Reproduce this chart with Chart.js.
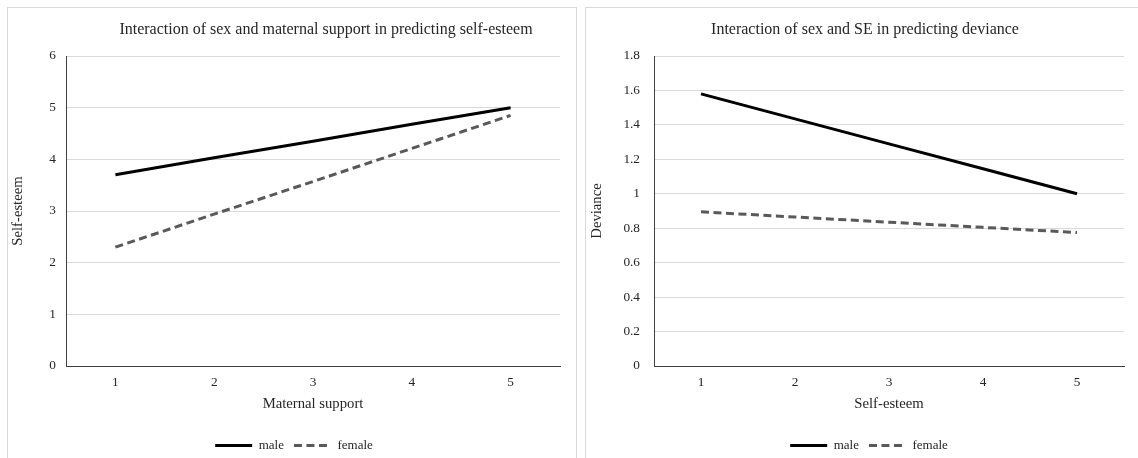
<!DOCTYPE html>
<html>
<head>
<meta charset="utf-8">
<script src="https://cdn.jsdelivr.net/npm/chart.js@4"></script>
<style>
  html, body { margin: 0; padding: 0; background: #fff; overflow: hidden; }
  body { width: 1138px; height: 458px; position: relative; }
  .box { position: absolute; top: 7px; height: 470px; border: 1px solid #d9d9d9; box-sizing: border-box; background: #fff; }
  #box-left { left: 7px; width: 570px; }
  #box-right { left: 585px; width: 570px; }
  canvas { position: absolute; left: 0; top: 0; }
</style>
</head>
<body>
<div class="box" id="box-left"><canvas id="c-left" width="568" height="458"></canvas></div>
<div class="box" id="box-right"><canvas id="c-right" width="552" height="458"></canvas></div>
<script>
  // chart 1: sex x maternal support -> self-esteem
  const supportLabels = ["1", "2", "3", "4", "5"];
  const esteemMale = [3.7, 4.03, 4.35, 4.68, 5.0];
  const esteemFemale = [2.3, 2.94, 3.57, 4.21, 4.85];

  // chart 2: sex x self-esteem -> deviance
  const esteemLabels = ["1", "2", "3", "4", "5"];
  const devianceMale = [1.58, 1.435, 1.29, 1.145, 1.0];
  const devianceFemale = [0.895, 0.865, 0.835, 0.805, 0.775];

  const FONT = "'Liberation Serif', 'Times New Roman', serif";
  const TEXT = "#262626";

  // draws the title at a chosen x, Excel doesn't centre it on the plot
  const titlePlugin = {
    id: "freeTitle",
    afterDraw(chart, args, opts) {
      const ctx = chart.ctx;
      ctx.save();
      ctx.font = "16px " + FONT;
      ctx.fillStyle = TEXT;
      ctx.textAlign = "center";
      ctx.textBaseline = "middle";
      ctx.fillText(opts.text, opts.x, opts.y);
      ctx.restore();
    },
  };

  // nudge the legend sideways without moving the axes
  const legendShift = {
    id: "legendShift",
    afterLayout(chart, args, opts) {
      if (!chart.legend) return;
      chart.legend.left += opts.dx;
      chart.legend.right += opts.dx;
    },
  };

  function legendLabels(chart) {
    const items = Chart.defaults.plugins.legend.labels.generateLabels(chart);
    return items.map((it, i) => {
      const ds = chart.data.datasets[i];
      return { ...it, lineDash: ds.borderDash || [], lineWidth: ds.borderWidth, strokeStyle: ds.borderColor };
    });
  }

  function makeChart(canvasId, cfg) {
    return new Chart(document.getElementById(canvasId), {
      type: "line",
      data: {
        labels: cfg.labels,
        datasets: [
          { label: "male", data: cfg.male, borderColor: "#000000", borderWidth: 3, pointRadius: 0, tension: 0, fill: false },
          { label: "female", data: cfg.female, borderColor: "#595959", borderWidth: 3, borderDash: [8, 4.5], pointRadius: 0, tension: 0, fill: false },
        ],
      },
      plugins: [titlePlugin, legendShift],
      options: {
        responsive: false,
        animation: false,
        events: [],
        layout: { padding: { top: 48, left: 0, right: cfg.padRight, bottom: 4 } },
        plugins: {
          freeTitle: { text: cfg.title, x: cfg.titleX, y: 22 },
          legendShift: { dx: cfg.legendDx },
          title: { display: false },
          tooltip: { enabled: false },
          legend: {
            position: "bottom",
            labels: {
              usePointStyle: true,
              pointStyle: "line",
              pointStyleWidth: 37,
              padding: 10,
              color: TEXT,
              font: { family: FONT, size: 13 },
              generateLabels: legendLabels,
            },
          },
        },
        scales: {
          x: {
            type: "category",
            offset: true,
            grid: { display: false, drawTicks: false },
            border: { display: true, color: "#404040", width: 1 },
            ticks: { color: TEXT, padding: 9, font: { family: FONT, size: 13.3 }, maxRotation: 0 },
            title: { display: true, text: cfg.xTitle, color: TEXT, font: { family: FONT, size: 14.7 }, padding: { top: 0, bottom: 16 } },
            afterFit(scale) { scale.height = 63; },
          },
          y: {
            min: 0,
            max: cfg.yMax,
            grid: { color: "#d9d9d9", lineWidth: 1, drawTicks: false },
            border: { display: true, color: "#404040", width: 1 },
            ticks: {
              stepSize: cfg.yStep, color: TEXT, padding: cfg.tickPad, font: { family: FONT, size: 13.3 },
              callback: (v) => String(Number(v.toFixed(1))),
            },
            title: { display: true, text: cfg.yTitle, color: TEXT, font: { family: FONT, size: 14.7 }, padding: { top: cfg.yTitlePad, bottom: 0 } },
            afterFit(scale) { scale.width = cfg.axisWidth; },
          },
        },
      },
    });
  }

  makeChart("c-left", {
    labels: supportLabels, male: esteemMale, female: esteemFemale,
    title: "Interaction of sex and maternal support in predicting self-esteem",
    titleX: 318, xTitle: "Maternal support", yTitle: "Self-esteem",
    yMax: 6, yStep: 1, axisWidth: 58, padRight: 16, tickPad: 10, yTitlePad: 1, legendDx: 10,
  });

  makeChart("c-right", {
    labels: esteemLabels, male: devianceMale, female: devianceFemale,
    title: "Interaction of sex and SE in predicting deviance",
    titleX: 279, xTitle: "Self-esteem", yTitle: "Deviance",
    yMax: 1.8, yStep: 0.2, axisWidth: 68, padRight: 14, tickPad: 14, yTitlePad: 2, legendDx: 14,
  });
</script>
</body>
</html>
